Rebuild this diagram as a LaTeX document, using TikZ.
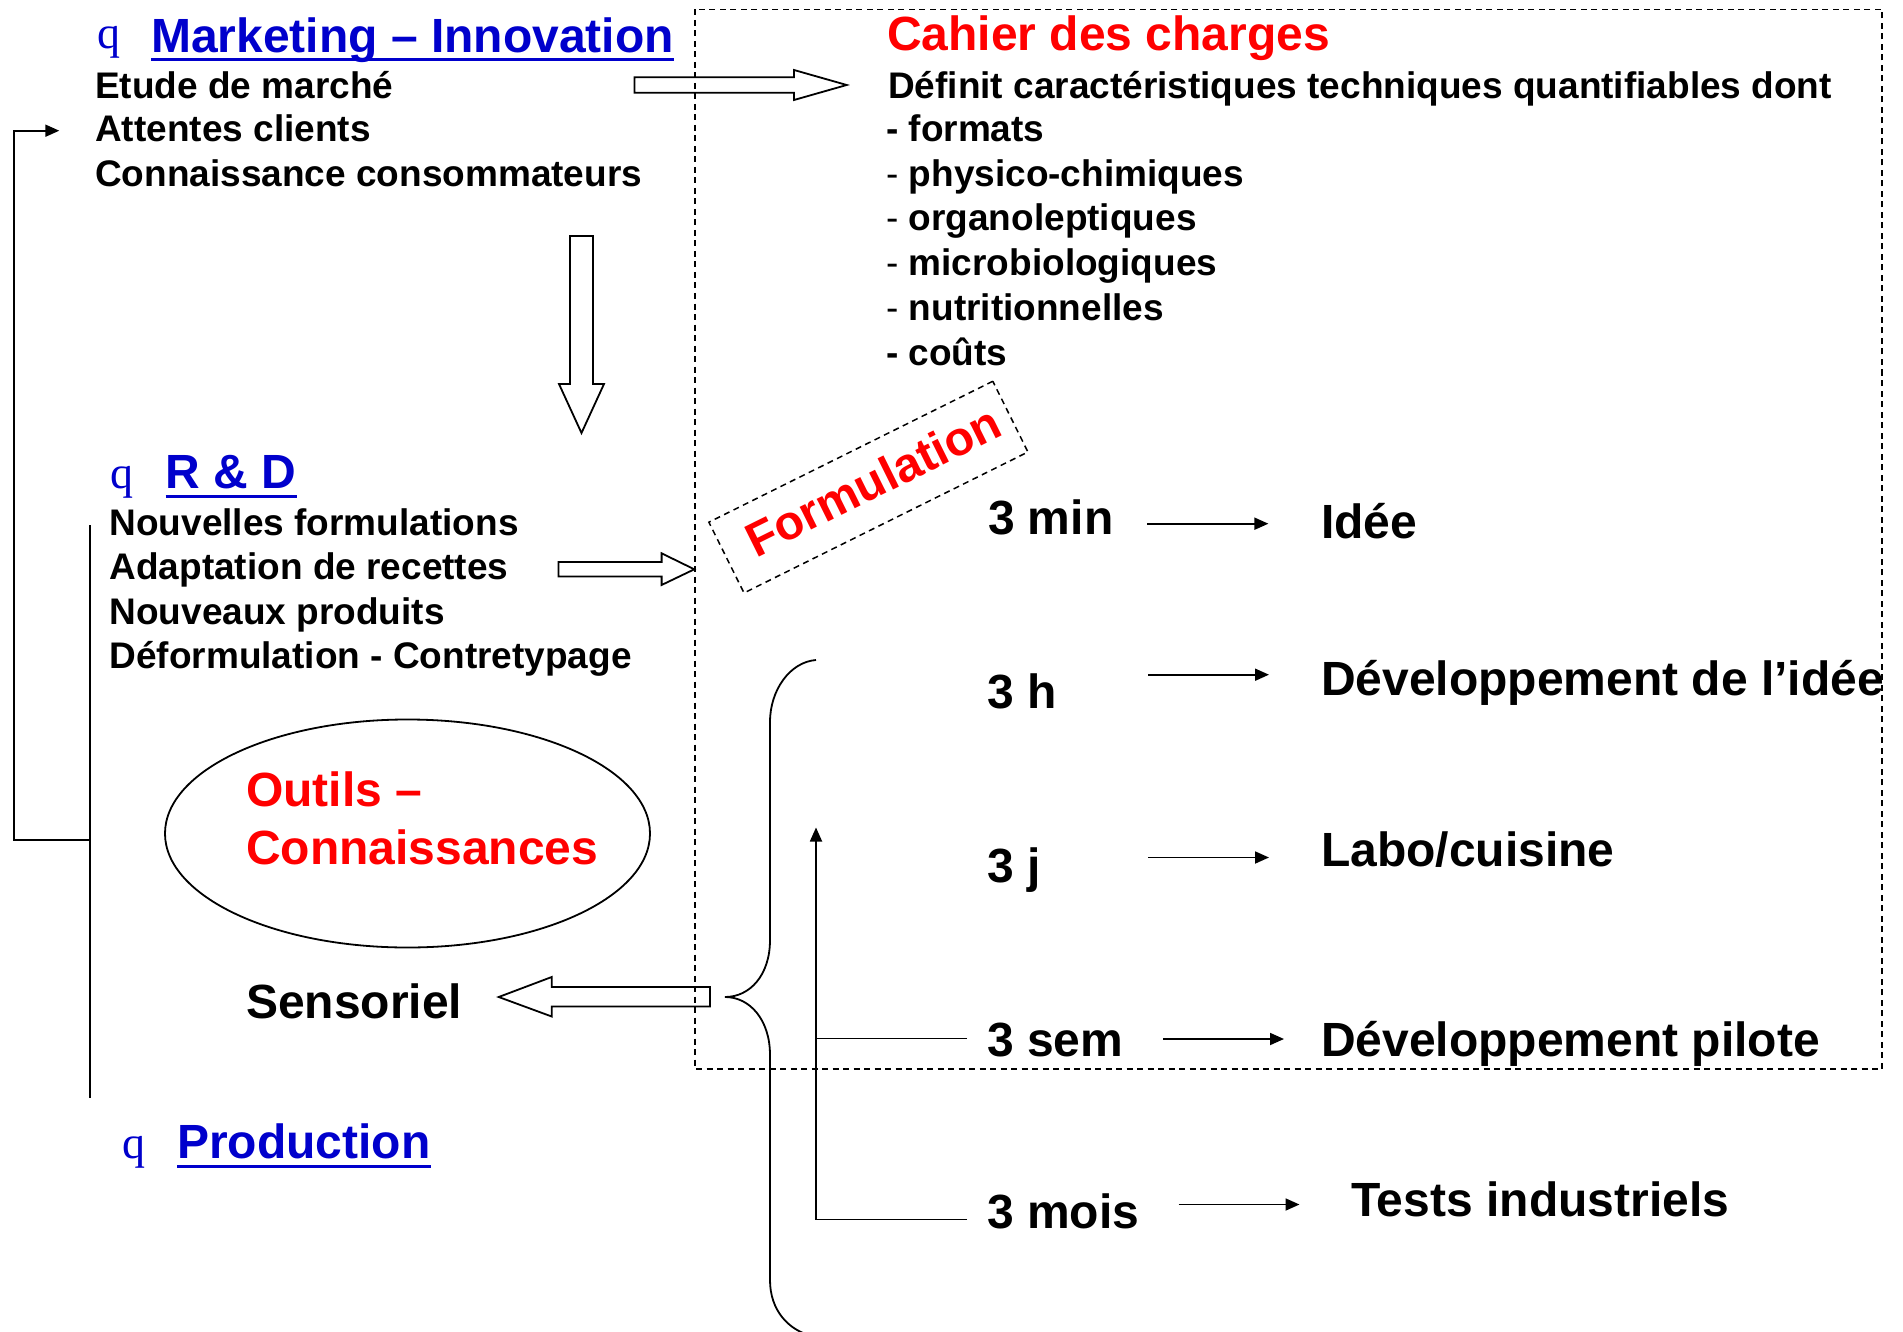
\documentclass[tikz,border=0pt]{standalone}
\usepackage{fontspec}
\setmainfont{Liberation Sans}
\newfontfamily\qfont{Liberation Serif}
\usetikzlibrary{arrows.meta,shapes.geometric}
\definecolor{hblue}{RGB}{0,0,204}
\definecolor{hred}{RGB}{255,0,0}
\begin{document}
\begin{tikzpicture}[x=1pt,y=-1pt,
  txt/.style={anchor=base west,inner sep=0pt,font=\bfseries\fontsize{37}{44}\selectfont},
  big/.style={anchor=base west,inner sep=0pt,font=\bfseries\fontsize{48}{56}\selectfont},
  head/.style={big,text=hblue},
  bul/.style={anchor=base west,inner sep=0pt,text=hblue,font=\qfont\fontsize{46}{50}\selectfont},
  plain/.style={line width=1.8pt},
  arr/.style={line width=1.8pt,-{Triangle[length=14pt,width=12pt]}},
  hollow/.style={line width=1.8pt,line join=miter},
  dsh/.style={line width=1.5pt,dash pattern=on 6pt off 4.5pt},
  uline/.style={line width=3.5pt,hblue}
]
\useasboundingbox (0,0) rectangle (1903,1332);

% dashed frame
\draw[dsh] (695,9.5) rectangle (1882,1069);

% Marketing section
\node[bul] (q1) at (97,49) {q};
\node[head] (mk) at (151,52.3) {Marketing – Innovation};
\draw[uline] ([yshift=-7pt]mk.base west) -- ([yshift=-7pt]mk.base east);
\node[txt] (etude) at (95,98.3) {Etude de marché};
\node[txt] (attentes) at (95,141.7) {Attentes clients};
\node[txt] (conso) at (95,186.7) {Connaissance consommateurs};

% Cahier des charges
\node[big,text=hred] (cahier) at (887,51) {Cahier des charges};
\node[txt] (definit) at (888,98.3) {Définit caractéristiques techniques quantifiables dont};
\node[txt] (l1) at (886,141.7) {- formats};
\node[txt] (l2) at (886,186.3) {\mdseries -\bfseries{} physico-chimiques};
\node[txt] (l3) at (886,231) {\mdseries -\bfseries{} organoleptiques};
\node[txt] (l4) at (886,275.7) {\mdseries -\bfseries{} microbiologiques};
\node[txt] (l5) at (886,320.3) {\mdseries -\bfseries{} nutritionnelles};
\node[txt] (l6) at (886,365) {- coûts};

% hollow arrows
\draw[hollow] (634.5,77.3) -- (794,77.3) -- (794,70) -- (846.7,85) -- (794,100) -- (794,92.7) -- (634.5,92.7) -- cycle;
\draw[hollow] (570,236) -- (593,236) -- (593,384) -- (604,384) -- (581.5,433) -- (559,384) -- (570,384) -- cycle;
\draw[hollow] (558.4,562) -- (661.6,562) -- (661.6,553.3) -- (694.3,569.3) -- (661.6,585) -- (661.6,576.5) -- (558.4,576.5) -- cycle;
\draw[hollow] (710,987) -- (551.7,987) -- (551.7,977) -- (498.7,997) -- (551.7,1016.5) -- (551.7,1006.5) -- (710,1006.5) -- cycle;

% R & D section
\node[bul] (q2) at (110.6,488) {q};
\node[head] (rd) at (165.7,488.3) {R \& D};
\draw[uline] ([yshift=-8pt]rd.base west) -- ([yshift=-8pt]rd.base east);
\node[txt] (r1) at (109.4,535) {Nouvelles formulations};
\node[txt] (r2) at (109.4,579.5) {Adaptation de recettes};
\node[txt] (r3) at (109.4,624) {Nouveaux produits};
\node[txt] (r4) at (109.4,668.5) {Déformulation - Contretypage};

% Formulation tilted box
\node[dsh,draw,rotate=26.4,minimum width=317pt,minimum height=79pt,inner sep=0pt] (fbox) at (868.4,487.1) {};
\node[rotate=26.4,inner sep=0pt,text=hred,font=\bfseries\fontsize{48}{56}\selectfont] (form) at (873,481) {Formulation};

% ellipse
\node[draw,ellipse,line width=1.8pt,minimum width=485pt,minimum height=228pt,inner sep=0pt] (ell) at (407.5,833.5) {};
\node[big,text=hred] (outils) at (246,806.5) {Outils –};
\node[big,text=hred] (conn) at (246,864) {Connaissances};
\node[big] (sens) at (246,1018.7) {Sensoriel};

% Production
\node[bul] (q3) at (122,1158.7) {q};
\node[head] (prod) at (177,1158.7) {Production};
\draw[uline] ([yshift=-8pt]prod.base west) -- ([yshift=-8pt]prod.base east);

% left connectors
\coordinate (fa) at (90,840);
\coordinate (fb) at (14,840);
\coordinate (fc) at (14,130.7);
\coordinate (fd) at (59.3,130.7);
\draw[arr] (fa) -- (fb) -- (fc) -- (fd);
\coordinate (va) at (90,525);
\coordinate (vb) at (90,1098);
\draw[plain] (va) -- (vb);

% time scale
\node[big] (t1) at (987.8,534.3) {3 min};
\node[big] (t2) at (987,708) {3 h};
\node[big] (t3) at (987,882.5) {3 j};
\node[big] (t4) at (987,1056) {3 sem};
\node[big] (t5) at (987,1228.5) {3 mois};
\node[big] (d1) at (1321,538.7) {Idée};
\node[big] (d2) at (1321,695.5) {Développement de l’idée};
\node[big] (d3) at (1321,866.7) {Labo/cuisine};
\node[big] (d4) at (1321,1056) {Développement pilote};
\node[big] (d5) at (1351,1216) {Tests industriels};

\coordinate (a1s) at (1147.4,523.7); \coordinate (a1e) at (1268.4,523.7);
\coordinate (a2s) at (1148,674.7);   \coordinate (a2e) at (1269,674.7);
\coordinate (a3s) at (1148,857.5);   \coordinate (a3e) at (1269,857.5);
\coordinate (a4s) at (1163,1039);    \coordinate (a4e) at (1284,1039);
\coordinate (a5s) at (1178.5,1204.5);  \coordinate (a5e) at (1299.5,1204.5);
\draw[arr] (a1s) -- (a1e);
\draw[arr] (a2s) -- (a2e);
\draw[arr] (a3s) -- (a3e);
\draw[arr] (a4s) -- (a4e);
\draw[arr] (a5s) -- (a5e);

% feedback up arrow
\coordinate (ua) at (967,1219.5);
\coordinate (ub) at (816,1219.5);
\coordinate (uc) at (816,827.5);
\coordinate (ud) at (967,1038.5);
\coordinate (ue) at (816,1038.5);
\draw[arr] (ua) -- (ub) -- (uc);
\draw[plain] (ud) -- (ue);

% brace
\draw[plain] (816,660) .. controls (790,662) and (770,690) .. (770,722)
  -- (770,940) .. controls (770,975) and (750,997) .. (725,997)
  .. controls (750,997) and (770,1020) .. (770,1055)
  -- (770,1280) .. controls (770,1310) and (788,1330) .. (812,1336);
\end{tikzpicture}
\end{document}
